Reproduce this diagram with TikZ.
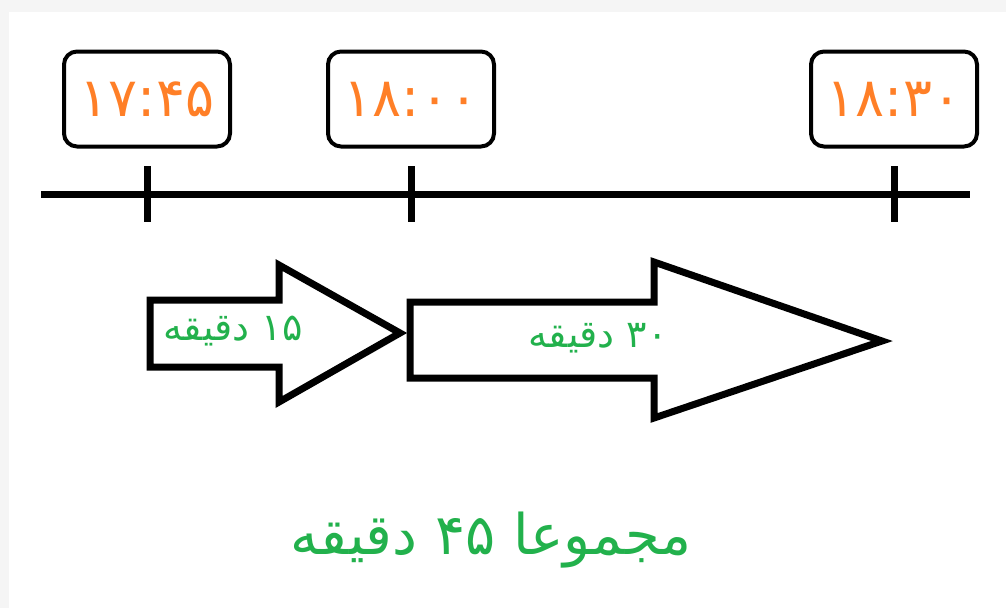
\documentclass[tikz,border=0pt]{standalone}
\usepackage{fontspec}
\newfontfamily\arabicfont[Script=Arabic]{DejaVu Sans}
\TeXXeTstate=1
\usetikzlibrary{positioning, calc}
\definecolor{paintorange}{RGB}{255,127,39}
\definecolor{paintgreen}{RGB}{34,177,76}
\definecolor{pagegray}{RGB}{245,245,245}
\tikzset{
  axis/.style={line width=7pt}, % the time line
  timetick/.style={line width=7pt}, % marks on the time line
  timebox/.style={
	draw, line width=4pt, % box round each time
	rounded corners=13pt,
	minimum width=166pt, minimum height=95pt,
	text=paintorange,
	font=\arabicfont\fontsize{54}{58}\selectfont,
  },
  bigarrow/.style={line width=7pt, line join=miter}, % the two block arrows
  minutes/.style={text=paintgreen, font=\arabicfont\fontsize{38}{40}\selectfont},
  total/.style={text=paintgreen, font=\arabicfont\fontsize{56}{60}\selectfont},
}

\begin{document}
\begin{tikzpicture}[x=1pt, y=-1pt]
\fill[pagegray] (0,0) rectangle (1006,608);
\fill[white] (9,12) rectangle (1006,608);
\useasboundingbox (0,0) rectangle (1006,608);

% time line with three marks
\coordinate (start) at (41,194);
\coordinate (end) at (970,194);
\draw[axis] (start) -- (end);
\foreach \name/\x/\clock in {a/147/{۱۷:۴۵}, b/411/{۱۸:۰۰}, c/894/{۱۸:۳۰}} {
  \coordinate (t\name) at (\x,194);
  \draw[timetick] ($(t\name)+(0,-28)$) -- ($(t\name)+(0,28)$);
  \node[timebox] (box\name) at ($(t\name)+(0,-95)$) {\clock};
}

% arrows
\draw[bigarrow] (150,300) -- (279,300) -- (279,265) -- (400,333) -- (279,402) -- (279,367) -- (150,367) -- cycle;
\draw[bigarrow] (410,302) -- (654,302) -- (654,262) -- (882,341) -- (654,418) -- (654,378) -- (410,378) -- cycle;

\node[minutes] (m15) at (233,331) {\beginR\beginL۱۵\endL{} دقیقه\endR};
\node[minutes] (m30) at (598,338) {\beginR\beginL۳۰\endL{} دقیقه\endR};
\node[total] (sum) at (491,540) {\beginR مجموعا \beginL۴۵\endL{} دقیقه\endR};
\end{tikzpicture}
\end{document}
